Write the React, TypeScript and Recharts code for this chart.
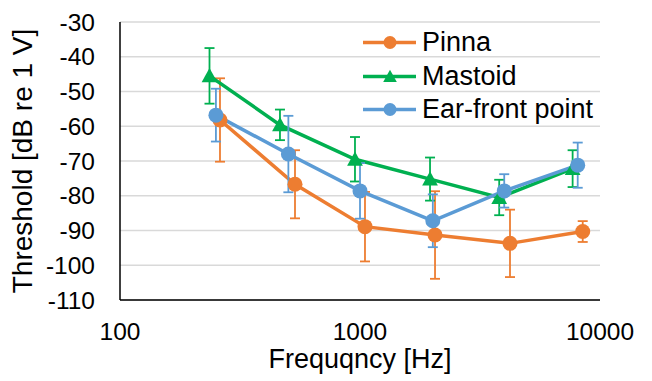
import {
  LineChart,
  Line,
  XAxis,
  YAxis,
  CartesianGrid,
  ErrorBar,
  Legend
} from 'recharts';

// values
const pinnaFreq = [261, 536, 1049, 2054, 4217, 8472];
const pinnaThreshold = [-58.2, -76.7, -88.9, -91.3, -93.7, -90.3];
const pinnaErr = [12, 9.8, 10, 12.6, 9.7, 3];

const mastoidFreq = [236, 464, 953, 1958, 3802, 7690];
const mastoidThreshold = [-45.5, -59.6, -69.5, -75.2, -80.5, -72.2];
const mastoidErr = [8, 4.4, 6.4, 6.2, 5.1, 5.3];

const earFreq = [251, 503, 1000, 2011, 3990, 8075];
const earThreshold = [-56.8, -68.0, -78.6, -87.2, -78.6, -71.2];
const earErr = [7.6, 11, 8, 7.6, 4.8, 6.5];

const xTicks = [100, 1000, 10000];
const yTicks = [-110, -100, -90, -80, -70, -60, -50, -40, -30];

const toRows = (freq: number[], vals: number[], errs: number[]) =>
  freq.map((f, i) => ({ freq: f, value: vals[i], err: errs[i] }));

const SERIES = [
  { name: 'Pinna', color: '#ED7D31', shape: 'circle', data: toRows(pinnaFreq, pinnaThreshold, pinnaErr) },
  { name: 'Mastoid', color: '#00B050', shape: 'triangle', data: toRows(mastoidFreq, mastoidThreshold, mastoidErr) },
  { name: 'Ear-front point', color: '#5B9BD5', shape: 'circle', data: toRows(earFreq, earThreshold, earErr) },
];

const FONT = '"Liberation Sans", Arial, sans-serif';

const Marker = ({ cx, cy, color, shape, size = 7.5 }: any) => {
  if (cx == null || cy == null) return null;
  if (shape === 'triangle') {
    const h = size * 1.9;
    const w = size * 2.1;
    const pts = `${cx},${cy - h * 0.55} ${cx - w / 2},${cy + h * 0.45} ${cx + w / 2},${cy + h * 0.45}`;
    return <polygon points={pts} fill={color} />;
  }
  return <circle cx={cx} cy={cy} r={size} fill={color} />;
};

const LegendBox = () => (
  <div style={{ fontFamily: FONT, fontSize: 27, color: '#000', lineHeight: '33px' }}>
    {SERIES.map(s => (
      <div key={s.name} style={{ display: 'flex', alignItems: 'center', height: 33.5 }}>
        <svg width={62} height={33}>
          <line x1={3} y1={16.5} x2={56} y2={16.5} stroke={s.color} strokeWidth={3.5} />
          <Marker cx={30} cy={16.5} color={s.color} shape={s.shape} size={6.5} />
        </svg>
        <span style={{ whiteSpace: 'nowrap' }}>{s.name}</span>
      </div>
    ))}
  </div>
);

export default function App() {
  return (
    <div style={{ position: 'absolute', left: 0, top: 0, width: 652, height: 381, background: '#fff' }}>
      <LineChart
        width={652}
        height={381}
        margin={{ top: 22, right: 52, bottom: 0, left: 0 }}
        style={{ fontFamily: FONT }}
      >
        <CartesianGrid vertical={false} stroke="#d9d9d9" strokeWidth={1.5} />
        <XAxis
          dataKey="freq"
          type="number"
          scale="log"
          domain={[100, 10000]}
          ticks={xTicks}
          allowDataOverflow
          height={81}
          tickLine={false}
          tickSize={0}
          tickMargin={23}
          axisLine={{ stroke: '#000', strokeWidth: 1.5 }}
          tick={{ fill: '#000', fontSize: 24.5 }}
          label={{ value: 'Frequqncy [Hz]', position: 'insideBottom', offset: 13, fill: '#000', fontSize: 27 }}
        />
        <XAxis
          xAxisId="top"
          orientation="top"
          dataKey="freq"
          type="number"
          scale="log"
          domain={[100, 10000]}
          allowDataOverflow
          height={0}
          tick={false}
          tickLine={false}
          axisLine={{ stroke: '#000', strokeWidth: 1.5 }}
        />
        <YAxis
          type="number"
          domain={[-110, -30]}
          ticks={yTicks}
          allowDataOverflow
          width={120}
          tickLine={false}
          tickSize={0}
          tickMargin={25}
          axisLine={{ stroke: '#000', strokeWidth: 1.5 }}
          tick={{ fill: '#000', fontSize: 24.5 }}
          label={{
            value: 'Threshold [dB re 1 V]',
            angle: -90,
            position: 'insideLeft',
            offset: 22,
            style: { textAnchor: 'middle' },
            fill: '#000',
            fontSize: 28
          }}
        />
        <YAxis
          yAxisId="right"
          orientation="right"
          domain={[-110, -30]}
          width={0}
          tick={false}
          tickLine={false}
          axisLine={{ stroke: '#000', strokeWidth: 1.5 }}
        />
        {SERIES.map(s => (
          <Line
            key={s.name}
            name={s.name}
            data={s.data}
            dataKey="value"
            stroke={s.color}
            strokeWidth={3.5}
            isAnimationActive={false}
            dot={(p: any) => <Marker key={`${s.name}-${p.index}`} cx={p.cx} cy={p.cy} color={s.color} shape={s.shape} />}
            activeDot={false}
          >
            <ErrorBar dataKey="err" direction="y" width={5} stroke={s.color} strokeWidth={1.8} />
          </Line>
        ))}
        <Legend
          layout="vertical"
          align="center"
          verticalAlign="middle"
          content={<LegendBox />}
          wrapperStyle={{ left: 360, top: 26, width: 260 }}
        />
      </LineChart>
    </div>
  );
}
